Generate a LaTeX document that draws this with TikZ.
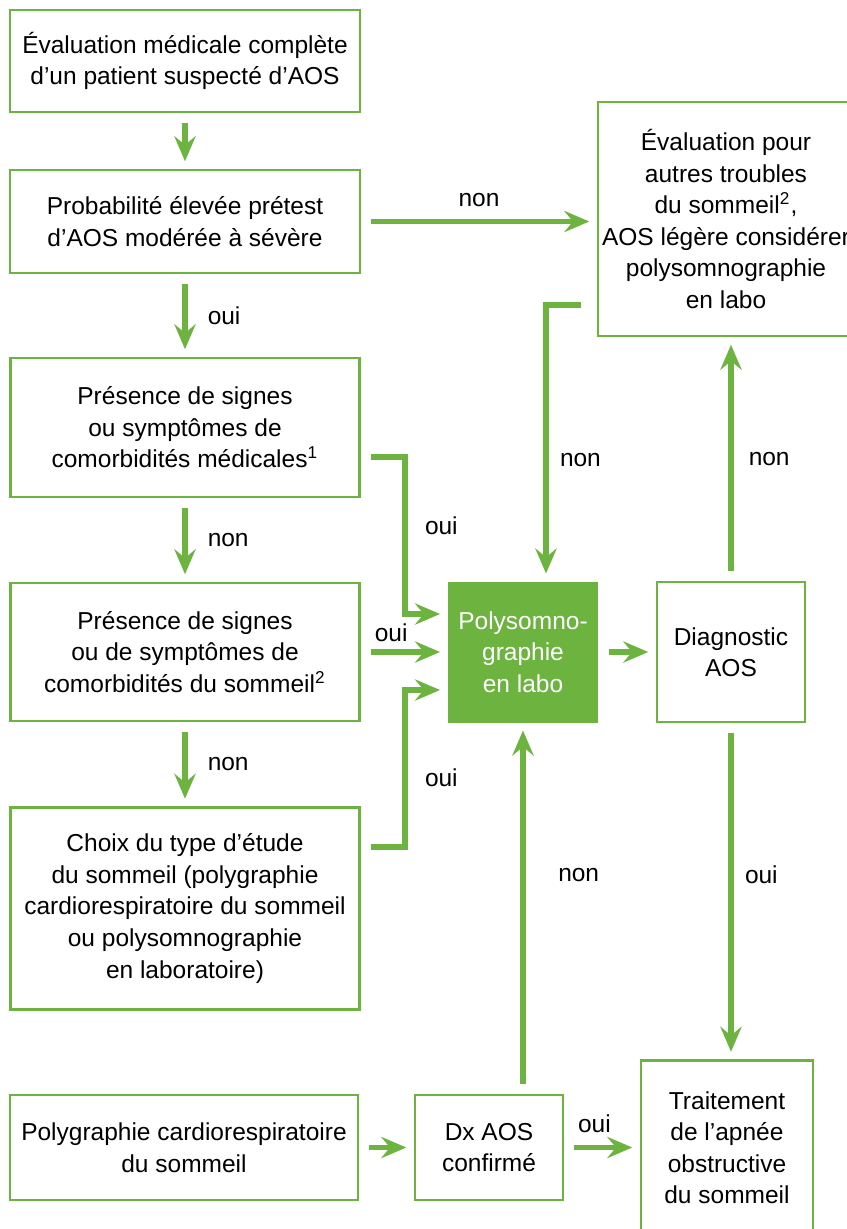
\documentclass[tikz,border=0pt]{standalone}
\usepackage{fontspec}
\setmainfont{Liberation Sans}
\usetikzlibrary{arrows.meta,positioning,calc}
\definecolor{aosgreen}{HTML}{6DB33F}

\begin{document}
\begin{tikzpicture}[x=0.4pt,y=-0.4pt,
    font=\fontsize{9.8}{12.6}\selectfont,
    box/.style={draw=aosgreen,line width=1pt,align=center,inner sep=0pt},
    labobox/.style={fill=aosgreen,text=white,align=center,inner sep=0pt},
    flow/.style={draw=aosgreen,line width=2.2pt,
      -{Stealth[length=10pt,width=8.5pt,inset=3.5pt]},
      shorten <=4pt,shorten >=3pt},
    lbl/.style={inner sep=0pt}]
  \useasboundingbox (0,0) rectangle (847,1229);
  % Left column
  \node[box,minimum width=140pt,minimum height=40.8pt] (eval) at (185,61)
    {Évaluation médicale complète\\d’un patient suspecté d’AOS};
  \node[box,minimum width=140pt,minimum height=41.2pt] (prob) at (185,221.5)
    {Probabilité élevée prétest\\d’AOS modérée à sévère};
  \node[box,minimum width=139.6pt,minimum height=55.6pt] (pres1) at (185,427.5)
    {Présence de signes\\ou symptômes de\\comorbidités médicales\textsuperscript{1}};
  \node[box,minimum width=139.6pt,minimum height=55.2pt] (pres2) at (185,652)
    {Présence de signes\\ou de symptômes de\\comorbidités du sommeil\textsuperscript{2}};
  \node[box,minimum width=139.6pt,minimum height=80.8pt] (choix) at (185,908.5)
    {Choix du type d’étude\\du sommeil (polygraphie\\cardiorespiratoire du sommeil\\ou polysomnographie\\en laboratoire)};
  \node[box,minimum width=139.2pt,minimum height=42pt] (polyg) at (184,1147.5)
    {Polygraphie cardiorespiratoire\\du sommeil};
  % Middle and right
  \node[box,minimum width=59.2pt,minimum height=42pt] (dx) at (489,1147.5)
    {Dx AOS\\confirmé};
  \node[box,minimum width=68.8pt,minimum height=69.6pt] (trait) at (727,1147.5)
    {Traitement\\de l’apnée\\obstructive\\du sommeil};
  \node[labobox,minimum width=60pt,minimum height=56.4pt] (labo) at (523,652)
    {Polysomno-\\graphie\\en labo};
  \node[box,minimum width=59.2pt,minimum height=56pt] (diag) at (731,652)
    {Diagnostic\\AOS};
  \node[box,minimum width=102.4pt,minimum height=93.6pt] (autres) at (726,219)
    {Évaluation pour\\autres troubles\\du sommeil\textsuperscript{2},\\AOS légère considérer\\polysomnographie\\en labo};
  % Connectors
  \draw[flow] (eval) -- (prob);
  \draw[flow] (prob) -- node[lbl,right=8pt] {oui} (pres1);
  \draw[flow] (pres1) -- node[lbl,right=8pt] {non} (pres2);
  \draw[flow] (pres2) -- node[lbl,right=8pt] {non} (choix);
  \draw[flow] (prob.east) -- node[lbl,above=5pt] {non} (prob.east -| autres.west);
  \draw[flow] ($(pres1.east)+(0,29.5)$) -- ++(44,0)
    |- node[lbl,pos=0.22,right=7pt] {oui} ($(labo.west)+(0,-38)$);
  \draw[flow] (pres2) -- node[lbl,pos=0.35,above=3pt] {oui} (labo);
  \draw[flow] ($(choix.east)+(0,-61.5)$) -- ++(44,0)
    |- node[lbl,pos=0.22,right=7pt] {oui} ($(labo.west)+(0,38)$);
  \draw[flow] ($(autres.west)+(-6,86)$)
    -| node[lbl,pos=0.78,right=4.5pt] {non} ($(labo.north)+(23,0)$);
  \draw[flow] (labo) -- (diag);
  \draw[flow] (diag.north) -- node[lbl,right=6pt] {non} (diag.north |- autres.south);
  \draw[flow] (diag.south) -- node[lbl,pos=0.45,right=4.5pt] {oui} (diag.south |- trait.north);
  \draw[flow] (dx.north -| labo.south) -- node[lbl,pos=0.59,right=13pt] {non} (labo.south);
  \draw[flow] (polyg) -- (dx);
  \draw[flow] (dx) -- node[lbl,pos=0.4,above=5pt] {oui} (trait);
\end{tikzpicture}
\end{document}
